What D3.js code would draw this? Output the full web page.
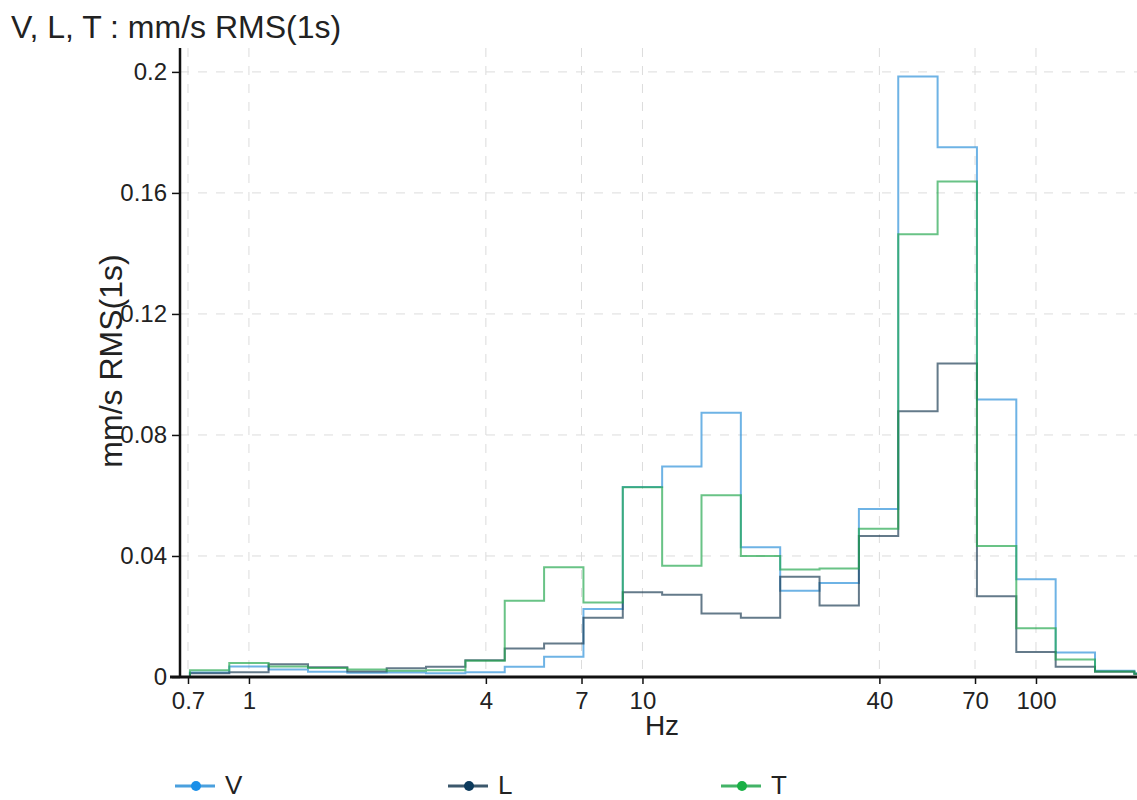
<!DOCTYPE html>
<html>
<head>
<meta charset="utf-8">
<script src="https://cdn.jsdelivr.net/npm/d3@7"></script>
<style>
  html, body { margin: 0; padding: 0; background: #fff; }
  svg { display: block; font-family: "Liberation Sans", Arial, sans-serif; }
</style>
</head>
<body>
<svg id="chart" width="1137" height="800"></svg>
<script>
// 1/3-octave band centre frequencies (Hz)
const bandCenters = [0.8, 1, 1.25, 1.6, 2, 2.5, 3.15, 4, 5, 6.3, 8, 10, 12.5, 16, 20, 25, 31.5, 40, 50, 63, 80, 100, 125, 160, 200];
// mm/s RMS(1s) per band
const valuesV = [0.0015, 0.0035, 0.0025, 0.0017, 0.0014, 0.0015, 0.0012, 0.0016, 0.0034, 0.0067, 0.0225, 0.0628, 0.0696, 0.0873, 0.0429, 0.0285, 0.0311, 0.0555, 0.1985, 0.1751, 0.0917, 0.0323, 0.0081, 0.0021, 0.0012];
const valuesL = [0.0012, 0.0016, 0.0042, 0.0032, 0.0018, 0.0029, 0.0034, 0.0055, 0.0094, 0.0111, 0.0196, 0.0280, 0.0272, 0.0210, 0.0196, 0.0331, 0.0236, 0.0466, 0.0878, 0.1036, 0.0267, 0.0083, 0.0034, 0.0017, 0.0010];
const valuesT = [0.0022, 0.0046, 0.0035, 0.0030, 0.0025, 0.0021, 0.0022, 0.0054, 0.0252, 0.0363, 0.0246, 0.0627, 0.0368, 0.0601, 0.0400, 0.0355, 0.0359, 0.0490, 0.1463, 0.1638, 0.0433, 0.0161, 0.0058, 0.0018, 0.0011];
const seriesNames = ["V", "L", "T"];
const xTickValues = [0.7, 1, 4, 7, 10, 40, 70, 100];
const yTickValues = [0, 0.04, 0.08, 0.12, 0.16, 0.2];
const titleText = "V, L, T : mm/s RMS(1s)";
const yLabelText = "mm/s RMS(1s)";
const xLabelText = "Hz";

const lineColors = { V: "#2a8fd8", L: "#1a3b52", T: "#22a64c" };
const dotColors  = { V: "#1a8fe8", L: "#0c3a5c", T: "#19b045" };

const svg = d3.select("#chart");
const pL = 180, pR = 1137, pT = 48, pB = 677;

const x = d3.scaleLog().domain([0.668, 180.6]).range([pL, pR]);
const y = d3.scaleLinear().domain([0, 0.2079]).range([pB, pT]);

// grid
const grid = svg.append("g").attr("stroke", "#dcdcdc").attr("stroke-width", 1).attr("stroke-dasharray", "9,9");
grid.selectAll("line.v").data(xTickValues).join("line").attr("class", "v")
  .attr("x1", d => x(d)).attr("x2", d => x(d)).attr("y1", pT).attr("y2", pB);
grid.selectAll("line.h").data(yTickValues.filter(d => d > 0)).join("line").attr("class", "h")
  .attr("x1", pL).attr("x2", pR).attr("y1", d => y(d)).attr("y2", d => y(d));

// series
const bandEdge = (c, side) => {
  const n = Math.round(10 * Math.log10(c));
  return Math.pow(10, (n + side * 0.5) / 10);
};
const series = { V: valuesV, L: valuesL, T: valuesT };
svg.append("clipPath").attr("id", "clip").append("rect")
  .attr("x", pL).attr("y", pT - 5).attr("width", pR - pL).attr("height", pB - pT + 5);
const line = d3.line().x(d => x(d[0])).y(d => y(d[1])).curve(d3.curveStepAfter);
const plot = svg.append("g").attr("clip-path", "url(#clip)");
["V", "L", "T"].forEach(name => {
  const vals = series[name];
  const pts = [[bandEdge(bandCenters[0], -1), 0]];
  bandCenters.forEach((c, i) => pts.push([bandEdge(c, -1), vals[i]]));
  pts.push([bandEdge(bandCenters[bandCenters.length - 1], 1), vals[vals.length - 1]]);
  plot.append("path").datum(pts)
    .attr("fill", "none")
    .attr("stroke", lineColors[name])
    .attr("stroke-opacity", 0.68)
    .attr("stroke-width", 2)
    .attr("d", line);
});

// axes
const xAxis = d3.axisBottom(x).tickValues(xTickValues).tickFormat(d3.format("~g")).tickSize(7).tickSizeOuter(0);
const gx = svg.append("g").attr("transform", `translate(0,${pB})`).call(xAxis);
gx.select(".domain").remove();
gx.selectAll(".tick line").attr("stroke", "#111").attr("stroke-width", 1.5);
gx.selectAll(".tick text").attr("font-size", 24).attr("fill", "#222").attr("dy", "0.9em")
  .attr("font-family", "Liberation Sans, Arial, sans-serif");
svg.append("line").attr("x1", 170).attr("x2", pR).attr("y1", pB).attr("y2", pB)
  .attr("stroke", "#111").attr("stroke-width", 3);

const yAxis = d3.axisLeft(y).tickValues(yTickValues).tickFormat(d => d === 0 ? "0" : d3.format("~g")(d)).tickSize(8).tickSizeOuter(0);
const gy = svg.append("g").attr("transform", `translate(${pL},0)`).call(yAxis);
gy.select(".domain").remove();
gy.selectAll(".tick line").attr("stroke", "#111").attr("stroke-width", 1.5);
gy.selectAll(".tick text").attr("font-size", 24).attr("fill", "#222").attr("x", -13)
  .attr("font-family", "Liberation Sans, Arial, sans-serif");
svg.append("line").attr("x1", pL).attr("x2", pL).attr("y1", pT).attr("y2", pB + 1)
  .attr("stroke", "#111").attr("stroke-width", 2.5);

// titles
svg.append("text").attr("x", 11).attr("y", 38).attr("font-size", 32).attr("fill", "#222").text(titleText);
svg.append("text").attr("transform", "translate(122,361) rotate(-90)").attr("text-anchor", "middle")
  .attr("font-size", 32).attr("fill", "#222").text(yLabelText);
svg.append("text").attr("x", 662).attr("y", 735).attr("text-anchor", "middle")
  .attr("font-size", 28).attr("fill", "#222").text(xLabelText);

// legend
const legend = svg.append("g").attr("transform", "translate(175,786)");
const lg = legend.selectAll("g").data(seriesNames).join("g")
  .attr("transform", (d, i) => `translate(${i * 273},0)`);
lg.append("line").attr("x1", 0).attr("x2", 40).attr("y1", 0).attr("y2", 0)
  .attr("stroke", d => lineColors[d]).attr("stroke-width", 3).attr("stroke-opacity", 0.85);
lg.append("circle").attr("cx", 21).attr("cy", 0).attr("r", 5).attr("fill", d => dotColors[d]);
lg.append("text").attr("x", 50).attr("y", 8).attr("font-size", 26).attr("fill", "#222").text(d => d);
</script>
</body>
</html>
